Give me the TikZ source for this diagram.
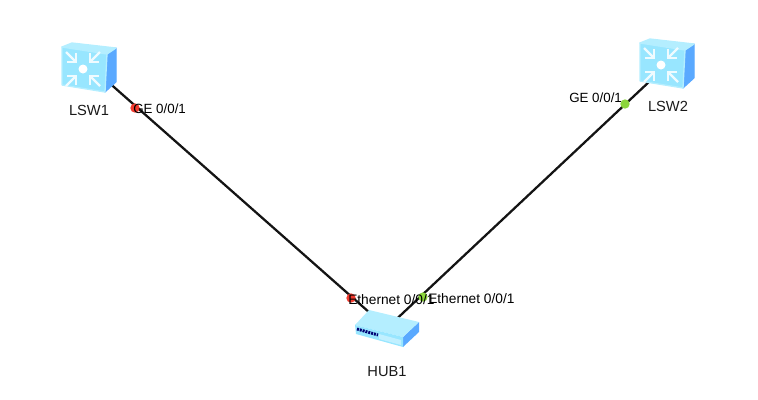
\documentclass[tikz,border=0pt]{standalone}
\usepackage{fontspec}
\setmainfont{Liberation Sans}
\usepackage{xcolor}
\usetikzlibrary{positioning}

\definecolor{facecyan}{HTML}{98E6FF}
\definecolor{topcyan}{HTML}{B4EEFF}
\definecolor{sideblue}{HTML}{5AA9FF}
\definecolor{portred}{HTML}{F23A2E}
\definecolor{portgreen}{HTML}{8CD63C}

\begin{document}
\begin{tikzpicture}[
        x=0.75pt, y=-0.75pt,
        device/.style={
            rectangle,
            inner sep=0pt,
            minimum size=1pt
        },
        devname/.style={
            font=\fontsize{11pt}{12pt}\selectfont,
            text=black!90,
            inner sep=0pt
        },
        portname/.style={
            font=\fontsize{10pt}{12pt}\selectfont,
            text=black,
            inner sep=0pt,
            anchor=west
        },
        portdot/.style={
            circle,
            inner sep=0pt,
            minimum size=7pt
        },
        cable/.style={line width=1.7pt, draw=black!92},
        chevron/.style={white!85!facecyan, line width=1.7pt},
        switchicon/.pic={
            \filldraw [sideblue, line join=round, line width=0.8pt] (27,-17) -- (18,-11) -- (16,27) -- (27,17) -- cycle;
            \filldraw [draw=topcyan, fill=topcyan, line join=round, line width=1pt] (-17,-22) -- (27,-17) -- (18,-11) -- (-27,-18) -- cycle;
            \filldraw [draw=topcyan, fill=facecyan, line join=round, line width=1pt] (-27,-18) -- (18,-11) -- (16,27) -- (-27,20) -- cycle;
            \fill [white] (-6,4) circle (4.5);
            \foreach \dx/\dy in {-1/-1, 1/-1, -1/1, 1/1} {
                \draw [chevron] (-6+7*\dx,4+7*\dy) -- (-6+17*\dx,4+17*\dy);
                \draw [chevron] (-6+7*\dx,4+16*\dy) -- (-6+7*\dx,4+7*\dy) -- (-6+16*\dx,4+7*\dy);
            }
        },
        hubicon/.pic={
            \fill [sideblue] (32,-6) -- (16,9) -- (16,19) -- (32,4) -- cycle;
            \fill [topcyan] (-18,-18) -- (32,-6) -- (16,9) -- (-32,-3) -- cycle;
            \fill [facecyan] (-32,-3) -- (16,9) -- (16,19) -- (-31,6) -- cycle;
            \fill [white!40!facecyan] (-8,6) -- (14,12) -- (14,17) -- (-8,11) -- cycle;
            \draw [blue!45!black, line width=2.2pt, dash pattern=on 1.5pt off 0.7pt] (-30,1) -- (-9,7);
        }
    ]

    \useasboundingbox (0,0) rectangle (758,400);

    \node (lsw1) [device] at (89,65) {};
    \node (lsw2) [device] at (667,65) {};
    \node (hub1) [device] at (387,328) {};

    \draw [cable] (lsw1) -- (hub1);
    \draw [cable] (lsw2) -- (hub1);

    \pic at (lsw1) {switchicon};
    \pic at ([yshift=3pt]lsw2) {switchicon};
    \pic at (hub1) {hubicon};

    \node (lsw1dot) [portdot, fill=portred] at (135,108) {};
    \node (lsw2dot) [portdot, fill=portgreen] at (625,104) {};
    \node (hub1dota) [portdot, fill=portred] at (351,298) {};
    \node (hub1dotb) [portdot, fill=portgreen] at (423,297) {};

    \node (lsw1name) [devname] at (89,110) {LSW1};
    \node (lsw2name) [devname] at (668,106) {LSW2};
    \node (hub1name) [devname] at (387,372) {HUB1};

    \node (lsw1port) [portname] at (133,109) {GE 0/0/1};
    \node (lsw2port) [portname] at (569,98) {GE 0/0/1};
    \node (hub1porta) [portname, font=\fontsize{10.3pt}{12pt}\selectfont] at (348,300) {Ethernet 0/0/1};
    \node (hub1portb) [portname, font=\fontsize{10.3pt}{12pt}\selectfont] at (428,299) {Ethernet 0/0/1};

\end{tikzpicture}
\end{document}
